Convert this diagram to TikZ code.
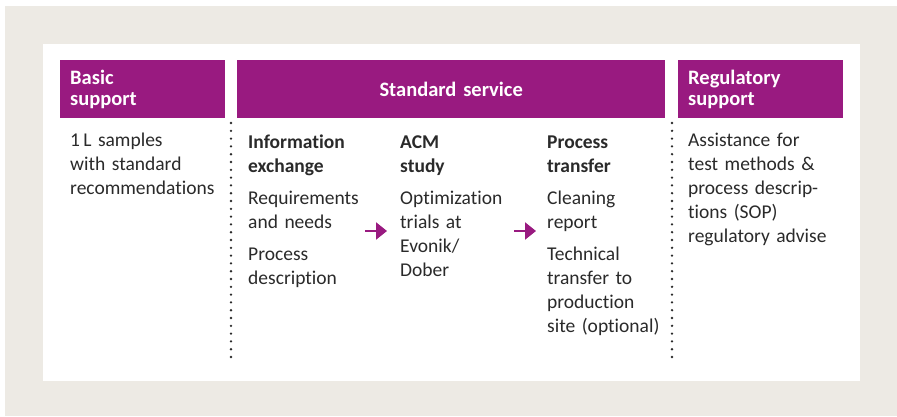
\documentclass[tikz,border=0pt]{standalone}
\usepackage{fontspec}
\setmainfont{Carlito}[Ligatures={NoCommon}]
\usetikzlibrary{positioning,arrows.meta}
\definecolor{evpurple}{HTML}{991A80}
\definecolor{panelbg}{HTML}{EDEAE4}
\definecolor{bodytext}{HTML}{2A2A2A}

\begin{document}
\begin{tikzpicture}[x=1pt,y=-1pt,
  hdr/.style={fill=evpurple, text=white, font=\fontsize{20.5}{21}\selectfont\bfseries,
    inner xsep=10pt, inner ysep=0pt, anchor=north west, minimum height=58pt},
  body/.style={text=bodytext, font=\fontsize{19.5}{24}\selectfont, anchor=base west,
    inner sep=0pt, align=left},
  sep/.style={bodytext, line width=2.6pt, line cap=round, dash pattern=on 0pt off 7.8pt},
  flow/.style={evpurple, line width=2.2pt, -{Triangle[length=11pt,width=17pt]}}
]
% panel
\useasboundingbox (0,0) rectangle (897,416);
\fill[panelbg] (5,6) rectangle (897,416);
\fill[white] (43,44) rectangle (860,381);

% headers
\node[hdr, text width=145pt, align=left] (basic) at (60,60) {Basic\\support};
\node[hdr, text width=408pt, align=center] (standard) at (237,60) {Standard service};
\node[hdr, text width=145pt, align=left] (regulatory) at (678,60) {Regulatory\\support};

% columns
\node[body, text width=150pt] (basictxt) at (70,146)
  {1\,L samples\\with standard\\recommendations};
\node[body, text width=115pt] (info) at (248,148.5)
  {\textbf{Information}\\\textbf{exchange}\\[8pt]Requirements\\and needs\\[8pt]Process\\description};
\node[body, text width=115pt] (acm) at (400,148.5)
  {\textbf{ACM}\\\textbf{study}\\[8pt]Optimization\\trials at\\Evonik/\\Dober};
\node[body, text width=115pt] (transfer) at (547,148.5)
  {\textbf{Process}\\\textbf{transfer}\\[8pt]Cleaning\\report\\[8pt]Technical\\transfer to\\production\\site (optional)};
\node[body, text width=150pt] (regtxt) at (688,146)
  {Assistance for\\test methods \&\\process descrip-\\tions (SOP)\\regulatory advise};

% separators
\coordinate (s1top) at (231,123);
\coordinate (s1bot) at (231,361);
\coordinate (s2top) at (672,123);
\coordinate (s2bot) at (672,361);
\draw[sep] (s1top) -- (s1bot);
\draw[sep] (s2top) -- (s2bot);

% arrows
\coordinate (a1) at (365,231);
\coordinate (b1) at (387,231);
\coordinate (a2) at (514,231);
\coordinate (b2) at (536,231);
\draw[flow] (a1) -- (b1);
\draw[flow] (a2) -- (b2);
\end{tikzpicture}
\end{document}
